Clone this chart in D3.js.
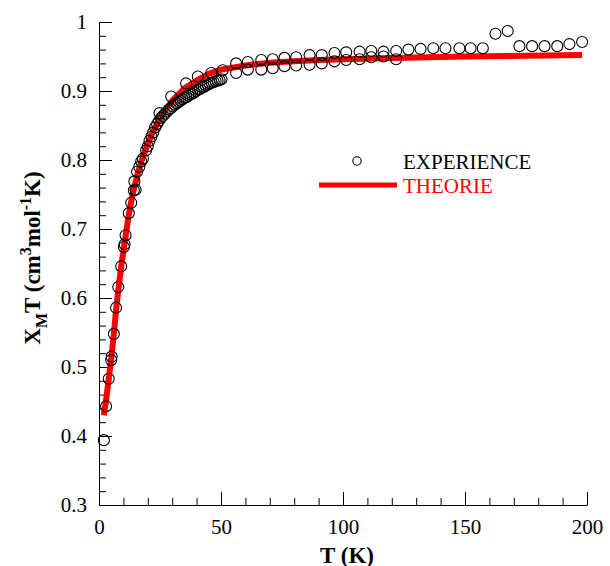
<!DOCTYPE html>
<html>
<head>
<meta charset="utf-8">
<script src="https://cdn.jsdelivr.net/npm/d3@7"></script>
<style>
  body { margin: 0; background: #fff; }
  svg { font-family: "Liberation Serif", "Times New Roman", serif; }
</style>
</head>
<body>
<div id="chart"></div>
<script>
// run 1 : sparse measurement, whole range
const run1T = [24.8, 29.6, 35.7, 40.5, 46.0, 50.7, 56.2, 61.0, 66.5, 71.2, 76.0, 80.8, 86.3, 91.3, 96.5,
  101.3, 106.8, 111.6, 116.6, 121.8, 126.8, 131.8, 137.0, 142.0, 147.7, 152.3, 157.3, 162.5, 167.5,
  172.3, 177.5, 182.6, 187.8, 192.8, 198.0];
const run1Chi = [0.868, 0.892, 0.911, 0.921, 0.926, 0.930, 0.940, 0.942, 0.945, 0.946, 0.948, 0.949, 0.952, 0.952, 0.955,
  0.956, 0.957, 0.958, 0.957, 0.958, 0.960, 0.961, 0.962, 0.962, 0.962, 0.962, 0.962, 0.983, 0.987,
  0.965, 0.965, 0.965, 0.965, 0.968, 0.971];

// run 2 : dense measurement at low T, then up to 120 K
const run2T = [2.0, 2.9, 4.0, 5.0, 5.2, 6.1, 7.0, 7.9, 9.1, 10.2, 10.5, 10.9, 12.2, 13.2, 14.3, 14.5, 15.0,
  15.6, 16.5, 17.3, 18.0, 19.3, 20.0, 20.7, 21.5, 22.2, 23.0, 23.8, 24.6, 25.4, 26.2, 27.0, 27.8, 28.6,
  29.4, 30.2, 31.0, 31.8, 32.6, 33.4, 34.2, 35.0, 35.8, 36.6, 37.4, 38.2, 39.0, 39.8, 40.6, 41.4, 42.2,
  43.0, 43.8, 44.6, 45.4, 46.2, 47.0, 47.8, 48.6, 49.4, 50.2,
  56.2, 61.0, 66.5, 71.2, 76.0, 80.8, 86.3, 91.3, 96.5, 101.3, 106.8, 111.6, 116.6, 121.8];
const run2Chi = [0.394, 0.443, 0.483, 0.510, 0.515, 0.548, 0.586, 0.616, 0.646, 0.674, 0.678, 0.691, 0.723, 0.738, 0.756, 0.769, 0.757,
  0.783, 0.790, 0.798, 0.802, 0.814, 0.820, 0.828, 0.834, 0.840, 0.847, 0.852, 0.857, 0.861, 0.864, 0.867, 0.870, 0.873,
  0.875, 0.878, 0.880, 0.882, 0.884, 0.886, 0.888, 0.890, 0.891, 0.893, 0.895, 0.896, 0.898, 0.900, 0.902, 0.903, 0.905,
  0.906, 0.908, 0.909, 0.911, 0.912, 0.913, 0.914, 0.915, 0.916, 0.917,
  0.926, 0.931, 0.931, 0.933, 0.936, 0.937, 0.938, 0.940, 0.943, 0.945, 0.946, 0.949, 0.950, 0.946];

// theoretical fit
const fitT = [2, 3, 4, 5, 6, 7, 8, 9, 10, 11, 12, 13, 14, 15, 16, 18, 20, 22, 25, 28, 30, 35, 40, 45, 50,
  60, 70, 80, 90, 100, 120, 150, 198];
const fitChi = [0.430, 0.455, 0.483, 0.512, 0.545, 0.583, 0.614, 0.643, 0.668, 0.692, 0.716, 0.736, 0.754, 0.768, 0.782,
  0.805, 0.823, 0.840, 0.860, 0.876, 0.886, 0.904, 0.915, 0.925, 0.931,
  0.937, 0.941, 0.943, 0.945, 0.946, 0.948, 0.950, 0.952];

const xMajor = [0, 50, 100, 150, 200];
const yMajor = [0.3, 0.4, 0.5, 0.6, 0.7, 0.8, 0.9, 1];

const width = 610, height = 566;
const margin = { left: 99, right: 23, top: 22, bottom: 61 };

const svg = d3.select("#chart").append("svg")
  .attr("width", width)
  .attr("height", height);

const x = d3.scaleLinear().domain([0, 200]).range([margin.left, width - margin.right]);
const y = d3.scaleLinear().domain([0.3, 1]).range([height - margin.bottom, margin.top]);

// minor ticks
svg.append("g")
  .attr("transform", `translate(0,${y(0.3)})`)
  .call(d3.axisBottom(x).tickValues(d3.range(0, 201, 10)).tickSize(-7).tickFormat(""))
  .call(g => g.select(".domain").remove());
svg.append("g")
  .attr("transform", `translate(${x(0)},0)`)
  .call(d3.axisLeft(y).tickValues(d3.range(30, 101, 2).map(d => d / 100)).tickSize(-7).tickFormat(""))
  .call(g => g.select(".domain").remove());

// major ticks
const xAxis = svg.append("g")
  .attr("transform", `translate(0,${y(0.3)})`)
  .call(d3.axisBottom(x).tickValues(xMajor).tickSize(-13).tickSizeOuter(0).tickPadding(14).tickFormat(d3.format("d")));
const yAxis = svg.append("g")
  .attr("transform", `translate(${x(0)},0)`)
  .call(d3.axisLeft(y).tickValues(yMajor).tickSize(-13).tickSizeOuter(0).tickPadding(12).tickFormat(d => d === 1 ? "1" : d3.format(".1f")(d)));

[xAxis, yAxis].forEach(g => {
  g.selectAll("text").attr("font-size", 21).attr("font-family", "Liberation Serif").attr("fill", "#000");
  g.selectAll("line, path").attr("stroke", "#000");
});

// fit curve
const line = d3.line().x(d => x(d[0])).y(d => y(d[1]));
svg.append("path")
  .datum(d3.zip(fitT, fitChi))
  .attr("d", line)
  .attr("fill", "none")
  .attr("stroke", "#ff0000")
  .attr("stroke-width", 6);

// experimental points
const pts = d3.zip(run2T, run2Chi).concat(d3.zip(run1T, run1Chi));
svg.append("g").selectAll("circle")
  .data(pts)
  .enter().append("circle")
  .attr("cx", d => x(d[0]))
  .attr("cy", d => y(d[1]))
  .attr("r", 5.5)
  .attr("fill", "none")
  .attr("stroke", "#000")
  .attr("stroke-width", 1.1);

// legend
const legend = svg.append("g");
legend.append("circle").attr("cx", 357).attr("cy", 161).attr("r", 4.2)
  .attr("fill", "none").attr("stroke", "#000").attr("stroke-width", 1.1);
legend.append("text").attr("x", 403).attr("y", 169).attr("font-size", 21).text("EXPERIENCE");
legend.append("line").attr("x1", 319).attr("x2", 397).attr("y1", 185).attr("y2", 185)
  .attr("stroke", "#ff0000").attr("stroke-width", 5);
legend.append("text").attr("x", 403).attr("y", 193).attr("font-size", 21).attr("fill", "#ff0000").text("THEORIE");

// axis titles
svg.append("text")
  .attr("x", 347).attr("y", 563)
  .attr("text-anchor", "middle")
  .attr("font-size", 23).attr("font-weight", "bold")
  .text("T (K)");

const yTitle = svg.append("text")
  .attr("transform", "translate(40,258) rotate(-90)")
  .attr("text-anchor", "middle")
  .attr("font-size", 23).attr("font-weight", "bold");
yTitle.append("tspan").text("X");
yTitle.append("tspan").attr("font-size", 16).attr("dy", 7).text("M");
yTitle.append("tspan").attr("dy", -7).text("T (cm");
yTitle.append("tspan").attr("font-size", 16).attr("dy", -9).text("3");
yTitle.append("tspan").attr("dy", 9).text("mol");
yTitle.append("tspan").attr("font-size", 16).attr("dy", -9).text("-1");
yTitle.append("tspan").attr("dy", 9).text("K)");
</script>
</body>
</html>
